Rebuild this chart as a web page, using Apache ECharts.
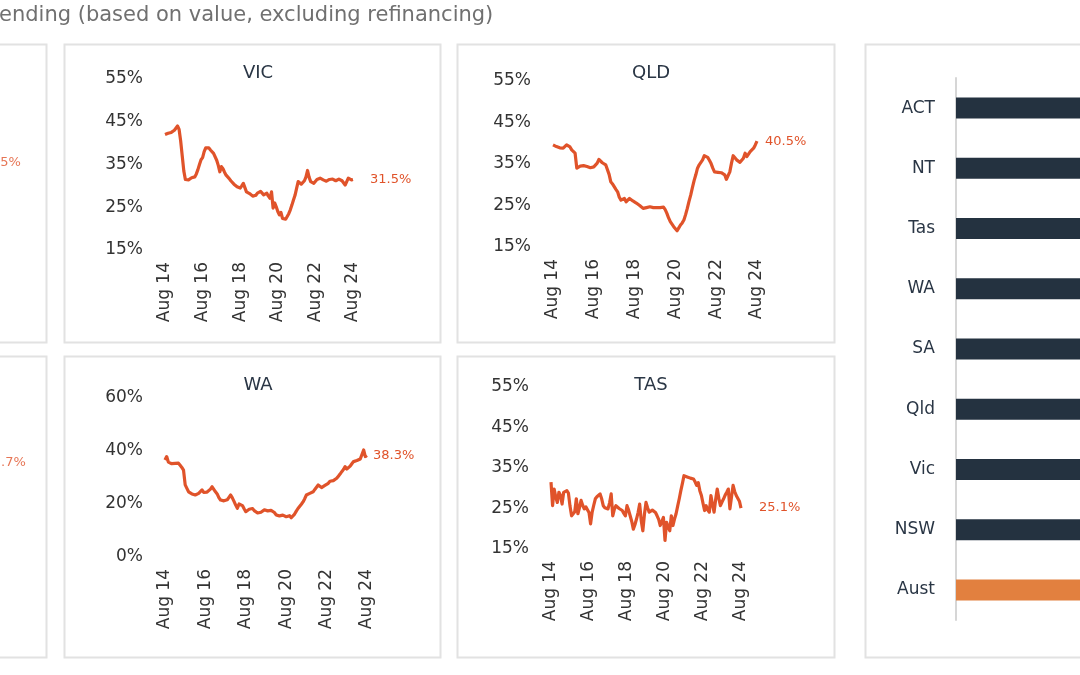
<!DOCTYPE html>
<html>
<head>
<meta charset="utf-8">
<script src="https://cdn.jsdelivr.net/npm/echarts@6/dist/echarts.min.js"></script>
<style>
html,body{margin:0;padding:0;background:#fff;overflow:hidden;}
#chart{width:1080px;height:675px;}
</style>
</head>
<body>
<div id="chart"></div>
<script>
// ---------- DATA ----------
const titleText = 'ending (based on value, excluding refinancing)';
const monthNames = ['Jan','Feb','Mar','Apr','May','Jun','Jul','Aug','Sep','Oct','Nov','Dec'];
const months = [];
for (let i = 0; i < 121; i++) {
  const mi = (7 + i) % 12;
  const yr = 14 + Math.floor((7 + i) / 12);
  months.push(monthNames[mi] + ' ' + yr);
}
const panelNames = ['NSW', 'VIC', 'QLD', 'SA', 'WA', 'TAS'];

const vic = [
  42.0,42.2,42.3,42.6,42.5,42.8,43.0,43.4,44.0,43.2,
  40.5,37.0,33.5,31.5,31.1,31.4,31.7,31.9,32.0,32.1,
  32.8,33.8,35.0,36.1,36.6,38.0,38.9,38.6,38.9,38.4,
  38.1,37.6,37.2,36.0,34.8,33.3,34.5,34.0,33.2,32.5,
  32.2,31.7,31.2,30.8,30.4,30.2,29.8,29.6,29.5,30.0,
  30.6,29.6,28.6,28.4,28.2,27.9,27.6,27.3,27.8,28.3,
  28.6,28.7,28.4,27.9,28.2,28.3,27.6,27.1,28.6,24.8,
  26.0,25.1,24.0,23.2,23.8,22.4,22.0,22.2,22.4,23.5,
  24.4,25.5,26.7,27.8,29.4,31.0,30.8,30.4,30.6,31.2,
  32.1,33.6,32.0,31.0,31.2,30.6,31.0,31.5,31.8,31.8,
  31.6,31.4,31.4,31.1,31.2,31.5,31.8,31.6,31.3,31.2,
  31.5,31.6,31.6,31.2,30.8,30.2,31.0,31.8,31.6,31.4,
  31.5
];
const qld = [
  39.6,39.4,39.2,38.8,38.9,38.7,38.8,39.2,39.6,40.0,
  39.1,38.4,38.0,37.6,34.0,34.3,34.5,34.4,34.6,34.2,
  34.4,34.5,34.1,34.2,34.3,34.4,35.2,36.1,35.8,35.3,
  35.2,34.8,34.4,32.5,30.7,30.2,29.9,28.9,28.3,27.0,
  26.3,26.5,26.7,25.9,26.3,26.7,26.4,26.1,25.8,25.6,
  25.4,25.0,24.6,24.3,24.3,24.5,24.3,24.7,24.7,24.5,
  24.4,24.5,24.3,24.5,24.6,24.6,24.0,23.1,22.0,21.1,
  20.5,19.9,19.4,18.9,19.6,20.3,20.8,21.5,22.8,24.3,
  26.0,27.5,29.3,31.0,32.4,34.0,34.8,35.1,36.0,37.0,
  37.2,36.6,35.9,35.1,34.0,33.1,33.2,33.0,33.1,32.9,
  32.8,32.4,31.3,32.2,33.1,35.2,37.0,36.8,36.0,35.6,
  35.4,35.1,36.4,37.6,36.8,37.4,38.0,38.4,38.8,39.6,
  40.5
];
const wa = [
  36.6,37.9,35.8,35.6,35.2,34.7,35.3,35.6,35.4,34.6,
  33.8,32.8,27.2,25.9,24.6,24.2,23.8,23.2,23.4,22.8,
  24.0,24.6,25.3,24.4,23.8,24.5,24.6,25.6,26.5,25.8,
  24.6,23.8,22.4,21.5,21.0,21.2,20.8,21.6,22.5,23.4,
  22.3,21.0,19.6,18.4,20.0,20.2,19.4,18.2,17.1,17.6,
  18.0,18.2,18.3,17.5,17.0,16.6,16.4,16.9,17.5,17.8,
  17.7,17.4,17.2,17.6,17.7,16.8,15.9,15.2,15.5,15.8,
  15.8,15.4,15.2,14.5,15.6,14.8,15.2,16.2,17.3,18.3,
  19.0,19.9,20.8,22.0,23.4,23.6,24.0,24.3,24.6,25.5,
  26.2,27.2,26.8,26.2,26.5,27.0,27.4,27.8,28.6,29.1,
  28.8,29.4,29.7,30.5,31.3,32.2,33.0,34.1,33.2,33.5,
  34.3,35.2,36.0,36.2,36.4,36.6,37.0,37.3,40.4,37.9,
  38.3
];
const tas = [
  31.5,25.7,29.8,27.8,26.5,29.0,28.2,26.1,29.0,28.6,
  29.4,28.8,25.6,23.2,23.7,24.2,27.4,23.7,25.2,27.0,
  25.8,24.9,25.4,25.7,24.0,21.2,24.1,25.8,27.4,27.9,
  28.2,28.6,27.4,25.7,25.2,25.6,24.9,26.4,28.6,23.2,
  24.8,25.7,25.5,25.0,24.9,24.5,23.8,23.2,25.7,24.6,
  23.2,21.8,19.9,21.0,22.4,24.0,26.1,22.0,19.5,23.5,
  26.5,25.2,24.1,24.4,24.6,24.5,24.0,23.2,22.3,20.8,
  21.8,22.8,17.1,21.6,20.5,19.5,23.2,20.8,22.4,23.7,
  25.6,27.4,29.4,31.2,33.1,32.9,32.8,32.7,32.5,32.6,
  32.3,31.6,30.7,31.4,29.4,28.2,26.3,24.5,25.7,24.6,
  24.1,28.2,26.0,24.1,27.2,29.8,27.5,25.7,26.6,27.4,
  28.3,29.0,29.8,24.9,27.8,30.7,29.2,28.2,28.4,26.8,
  25.1
];
// only the latest values of the two cropped panels are visible
const nswLatest = [35.5];
const saLatest = [35.7];

const barStates = ['ACT','NT','Tas','WA','SA','Qld','Vic','NSW','Aust'];
const barValues = [30.0, 28.0, 25.1, 38.3, 35.7, 40.5, 31.5, 35.5, 36.0];

// ---------- STYLE ----------
const FONT = 'DejaVu Sans';
const LINE_COLOR = '#E0532A';
const TEXT_DARK = '#2a3645';
const AXIS_TEXT = '#333333';
const BORDER = '#e2e2e2';

const grids = [
  {left: -229, top: 79,  width: 188, height: 171, min: 15, max: 55, interval: 10}, // NSW
  {left: 165,  top: 79,  width: 188, height: 171, min: 15, max: 55, interval: 10}, // VIC
  {left: 553,  top: 81,  width: 204, height: 166, min: 15, max: 55, interval: 10}, // QLD
  {left: -229, top: 398, width: 202, height: 159, min: 0,  max: 60, interval: 20}, // SA
  {left: 165,  top: 398, width: 202, height: 159, min: 0,  max: 60, interval: 20}, // WA
  {left: 551,  top: 387, width: 190, height: 162, min: 15, max: 55, interval: 10}  // TAS
];
const titlePos = [[-141, 59], [253, 59], [646, 59], [-141, 371], [253, 371], [646, 371]];

const gridOpts = grids.map(g => ({left: g.left, top: g.top, width: g.width, height: g.height, outerBoundsMode: 'none', containLabel: false}));
const xAxes = grids.map((g, i) => ({
  type: 'category', gridIndex: i, data: months, boundaryGap: false,
  axisLine: {show: false}, axisTick: {show: false}, splitLine: {show: false},
  axisLabel: {interval: 23, rotate: 90, margin: 12, color: AXIS_TEXT, fontFamily: FONT, fontSize: 17}
}));
const yAxes = grids.map((g, i) => ({
  type: 'value', gridIndex: i, min: g.min, max: g.max, interval: g.interval,
  axisLine: {show: false}, axisTick: {show: false}, splitLine: {show: false},
  axisLabel: {margin: 22, color: AXIS_TEXT, fontFamily: FONT, fontSize: 17, formatter: v => v + '%'}
}));
// bar panel
gridOpts.push({left: 956, top: 78, width: 300, height: 542, outerBoundsMode: 'none', containLabel: false});
xAxes.push({type: 'value', gridIndex: 6, min: 0, max: 50, show: false});
yAxes.push({
  type: 'category', gridIndex: 6, data: barStates, inverse: true,
  axisLine: {show: true, lineStyle: {color: '#d6d6d6', width: 2}},
  axisTick: {show: false},
  axisLabel: {margin: 21, color: TEXT_DARK, fontFamily: FONT, fontSize: 17}
});

function lineSeries(idx, data, dist) {
  return {
    type: 'line', xAxisIndex: idx, yAxisIndex: idx, data: data,
    showSymbol: false, symbol: 'none', animation: false,
    lineStyle: {color: LINE_COLOR, width: 3.2, join: 'round'},
    endLabel: {show: true, distance: dist, color: LINE_COLOR, fontFamily: FONT, fontSize: 13,
      formatter: p => p.value.toFixed(1) + '%'}
  };
}
function latestSeries(idx, data, dist) {
  return {
    type: 'scatter', xAxisIndex: idx, yAxisIndex: idx, symbolSize: 1, animation: false,
    itemStyle: {color: 'rgba(0,0,0,0)'},
    data: data.map(v => [months.length - 1, v]),
    label: {show: true, position: 'right', distance: dist, color: LINE_COLOR, fontFamily: FONT, fontSize: 13,
      formatter: p => p.value[1].toFixed(1) + '%'}
  };
}

const series = [
  latestSeries(0, nswLatest, 20),
  lineSeries(1, vic, 17),
  lineSeries(2, qld, 8),
  latestSeries(3, saLatest, 11),
  lineSeries(4, wa, 6),
  lineSeries(5, tas, 18),
  {
    type: 'bar', xAxisIndex: 6, yAxisIndex: 6, barWidth: 21, animation: false,
    data: barValues.map((v, i) => ({value: v, itemStyle: {color: barStates[i] === 'Aust' ? '#E2803F' : '#243240'}}))
  }
];

const panelRects = [
  [-330, 44, 376, 298], [64, 44, 376, 298], [457, 44, 377, 298],
  [-330, 356, 376, 301], [64, 356, 376, 301], [457, 356, 377, 301],
  [865, 44, 400, 613]
];
const graphics = panelRects.map(r => ({
  type: 'rect', z: -1, silent: true,
  shape: {x: r[0] + 0.5, y: r[1] + 0.5, width: r[2], height: r[3]},
  style: {fill: '#fff', stroke: BORDER, lineWidth: 2}
}));
graphics.push({
  type: 'text', left: -1, top: 5,
  style: {text: titleText, fill: '#707070', font: '21px "' + FONT + '"'}
});

const titles = panelNames.map((n, i) => ({
  text: n, left: titlePos[i][0], top: titlePos[i][1], textAlign: 'center',
  textStyle: {color: TEXT_DARK, fontFamily: FONT, fontSize: 18, fontWeight: 'normal'}
}));

const chart = echarts.init(document.getElementById('chart'), null, {renderer: 'canvas'});
chart.setOption({
  animation: false,
  backgroundColor: '#ffffff',
  title: titles,
  grid: gridOpts,
  xAxis: xAxes,
  yAxis: yAxes,
  series: series,
  graphic: graphics
});
</script>
</body>
</html>
